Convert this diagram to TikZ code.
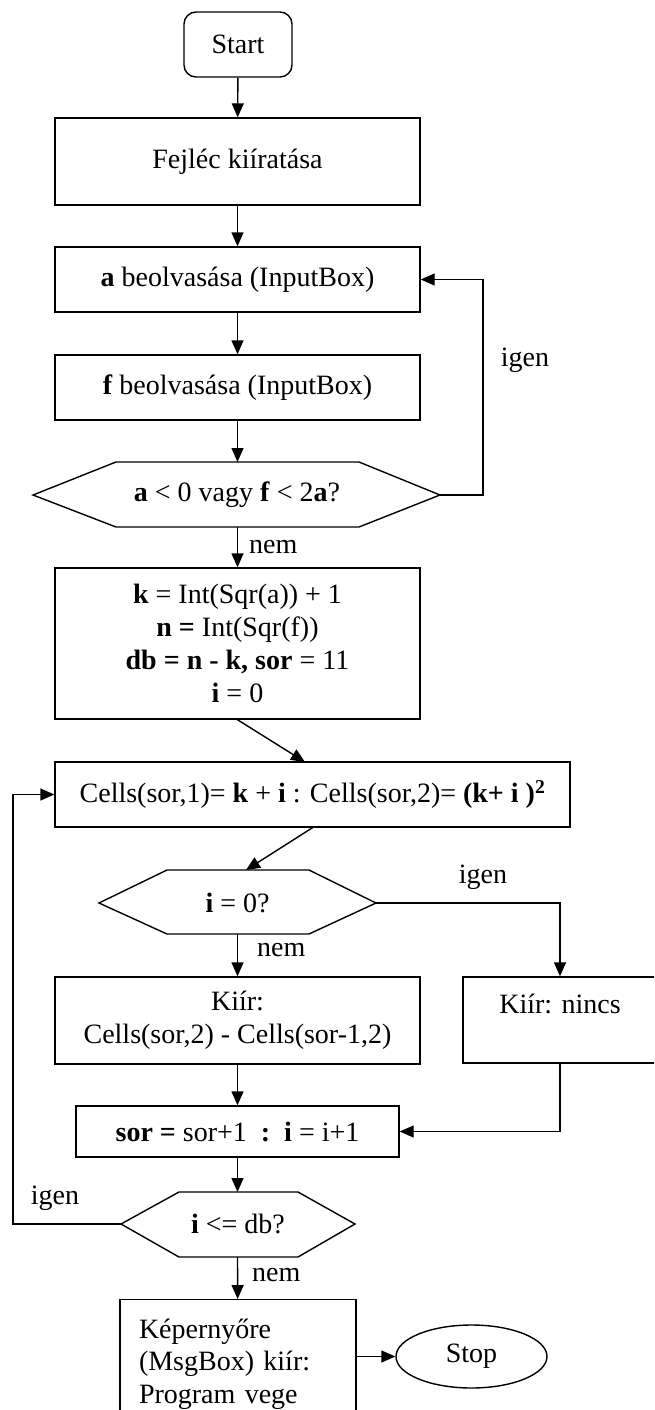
\documentclass[tikz,border=0pt]{standalone}
\usepackage{fontspec}
\setmainfont{Liberation Serif}
\usetikzlibrary{arrows.meta,shapes.geometric}
\newcommand\flowfont{\fontsize{28}{32.8}\selectfont}
\tikzset{
  box/.style={draw, rectangle, line width=1.4pt, inner sep=0pt, align=center, font=\flowfont},
  lbl/.style={inner sep=0pt, font=\flowfont},
  ln/.style={line width=1.4pt},
  arr/.style={line width=1.4pt, -{Triangle[length=14pt,width=12pt]}},
}
\begin{document}
\begin{tikzpicture}[x=1pt,y=-1pt]
\useasboundingbox (0,0) rectangle (654,1410);
\clip (0,0) rectangle (654,1410);

% nodes
\node[box, minimum width=108pt, minimum height=65pt, rounded corners=12pt] (start) at (238,44.5) {Start};
\node[box, minimum width=365pt, minimum height=87pt] (fej) at (237.5,161.5) {Fejléc kiíratása};
\node[box, minimum width=365pt, minimum height=65pt] (abox) at (237.5,279.5) {\textbf{a} beolvasása (InputBox)};
\node[box, minimum width=365pt, minimum height=65pt] (fbox) at (237.5,387.5) {\textbf{f} beolvasása (InputBox)};

% hexagon 1
\coordinate (h1l) at (33,495);
\coordinate (h1r) at (440,495);
\coordinate (h1t) at (237.5,462);
\coordinate (h1b) at (237.5,527);
\draw[ln] (h1l) -- (116,462) -- (359,462) -- (h1r) -- (359,527) -- (116,527) -- cycle;
\node[lbl] (q1) at (237,495) {\textbf{a} < 0 vagy \textbf{f} < 2\textbf{a}?};
\coordinate (c1) at (483,495);
\node[lbl] (igen1) at (525,360) {igen};
\node[lbl, anchor=west] (nem1) at (249,547) {nem};

\node[box, minimum width=365pt, minimum height=151pt] (kbox) at (237.5,643.5)
  {\textbf{k} = Int(Sqr(a)) + 1\\\textbf{n =} Int(Sqr(f))\\\textbf{db = n - k, sor} = 11\\\textbf{i} = 0};
\node[box, minimum width=515pt, minimum height=65pt] (cells) at (312.5,794.5)
  {Cells(sor,1)= \textbf{k} + \textbf{i} : Cells(sor,2)= \textbf{(k+ i )}\textsuperscript{\textbf{2}}};
\coordinate (cin) at (305,762);

% hexagon 2
\coordinate (h2l) at (99,903);
\coordinate (h2r) at (376,903);
\coordinate (h2in) at (246,870);
\coordinate (h2b) at (237.5,934);
\draw[ln] (h2l) -- (167,870) -- (309,870) -- (h2r) -- (309,934) -- (167,934) -- cycle;
\node[lbl] (q2) at (237.5,903) {\textbf{i} = 0?};
\node[lbl] (igen2) at (483,877) {igen};
\node[lbl, anchor=west] (nem2) at (257,950) {nem};

\node[box, minimum width=365pt, minimum height=87pt] (kiir) at (237.5,1020.5)
  {Kiír:\\Cells(sor,2) - Cells(sor-1,2)};
\node[box, minimum width=194pt, minimum height=86pt] (nincs) at (560,1020)
  {Kiír: nincs\\\mbox{}};
\node[box, minimum width=323pt, minimum height=51pt] (sor) at (237.5,1131.5)
  {\textbf{sor =} sor+1\ \ \textbf{:}\ \ \textbf{i} = i+1};

% hexagon 3
\coordinate (h3l) at (121,1224);
\coordinate (h3r) at (355,1224);
\coordinate (h3t) at (237.5,1192);
\coordinate (h3b) at (237.5,1257);
\draw[ln] (h3l) -- (179,1192) -- (298,1192) -- (h3r) -- (298,1257) -- (179,1257) -- cycle;
\node[lbl] (q3) at (238,1224) {\textbf{i} <= db?};
\coordinate (c3) at (13,1224);
\node[lbl] (igen3) at (55,1198) {igen};
\node[lbl, anchor=west] (nem3) at (252,1275) {nem};

\node[box, anchor=north, text width=198pt, align=left, inner xsep=19pt, inner ysep=19pt] (kep) at (238,1299)
  {Képernyőre\\(MsgBox) kiír:\\Program vege\\\mbox{}};
\node[draw, ellipse, line width=1.4pt, minimum width=151pt, minimum height=63pt, inner sep=0pt, font=\flowfont] (stop) at (471.5,1356.5) {Stop};

% connectors
\draw[arr] (start) -- (fej);
\draw[arr] (fej) -- (abox);
\draw[arr] (abox) -- (fbox);
\draw[arr] (fbox) -- (h1t);
\draw[arr] (h1r) -- (c1) |- (abox);
\draw[arr] (h1b) -- (kbox);
\draw[arr] (kbox.south) -- (cin);
\draw[arr] (cells.south) -- (h2in);
\draw[arr] (h2r) -| (nincs);
\draw[arr] (h2b) -- (kiir);
\draw[arr] (kiir) -- (sor);
\draw[arr] (nincs) |- (sor);
\draw[arr] (sor) -- (h3t);
\draw[arr] (h3l) -- (c3) |- (cells);
\draw[arr] (h3b) -- (kep);
\draw[arr] (kep.east |- stop.west) -- (stop);
\end{tikzpicture}
\end{document}
